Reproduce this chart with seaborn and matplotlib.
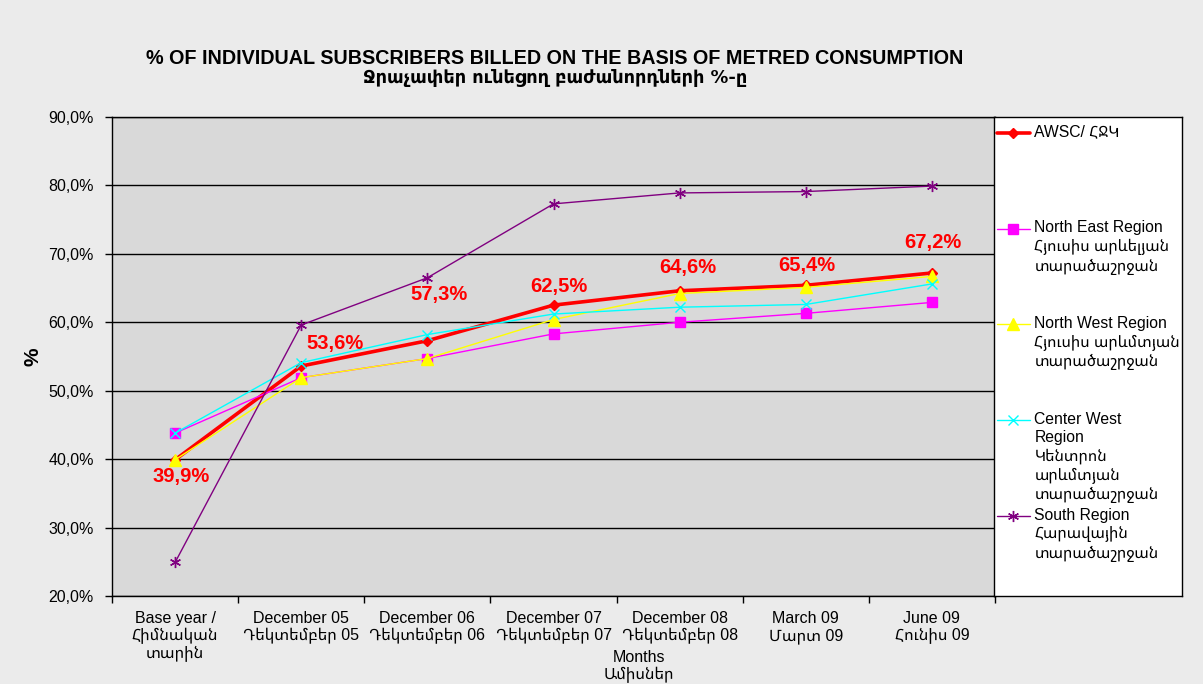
import seaborn as sns
import matplotlib.pyplot as plt
import pandas as pd
import numpy as np
from matplotlib.ticker import FuncFormatter

# data
periods = [
    "Base year /\nՀիմնական\nտարին",
    "December 05\nԴեկտեմբեր 05",
    "December 06\nԴեկտեմբեր 06",
    "December 07\nԴեկտեմբեր 07",
    "December 08\nԴեկտեմբեր 08",
    "March 09\nՄարտ 09",
    "June 09\nՀունիս 09",
]
awsc = [39.9, 53.6, 57.3, 62.5, 64.6, 65.4, 67.2]
north_east = [43.8, 51.9, 54.7, 58.3, 60.0, 61.3, 62.9]
north_west = [39.9, 51.9, 54.7, 60.4, 64.2, 65.1, 66.7]
center_west = [43.8, 54.1, 58.2, 61.2, 62.2, 62.6, 65.6]
south = [24.9, 59.6, 66.5, 77.3, 78.9, 79.1, 79.9]

series_labels = [
    "AWSC/ ՀՋԿ",
    "North East Region\nՀյուսիս արևելյան\nտարածաշրջան",
    "North West Region\nՀյուսիս արևմտյան\nտարածաշրջան",
    "Center West\nRegion\nԿենտրոն\nարևմտյան\nտարածաշրջան",
    "South Region\nՀարավային\nտարածաշրջան",
]
series_values = [awsc, north_east, north_west, center_west, south]

# styles per series: colour, marker, marker size, line width
styles = [
    ("#ff0000", "D", 5, 2.6),
    ("#ff00ff", "s", 7, 1.0),
    ("#ffff00", "^", 8, 1.0),
    ("#00ffff", "x", 7, 1.0),
    ("#800080", (6, 2, 0), 8, 1.0),
]
# pixel offsets of the AWSC value labels
label_offsets = [(6, -17), (34, 23), (12, 46), (5, 19), (8, 23), (1, 20), (1, 30)]

rows = []
for name, vals in zip(series_labels, series_values):
    for i, v in enumerate(vals):
        rows.append({"series": name, "pos": i, "value": v})
df = pd.DataFrame(rows)

sns.set_style("ticks")
plt.rcParams['font.family'] = ['Liberation Sans', 'Noto Sans Armenian', 'DejaVu Sans']
plt.rcParams['text.color'] = 'black'
plt.rcParams['axes.labelcolor'] = 'black'
plt.rcParams['xtick.color'] = 'black'
plt.rcParams['ytick.color'] = 'black'

fig = plt.figure(figsize=(12.03, 6.84), dpi=100, facecolor='#ebebeb')
ax = fig.add_axes([0.0931, 0.1287, 0.734, 0.7003])
ax.set_facecolor('#d9d9d9')

for name, (color, marker, ms, lw) in zip(series_labels, styles):
    sns.lineplot(data=df[df.series == name], x="pos", y="value", ax=ax,
                 color=color, marker=marker, markersize=ms, lw=lw,
                 markeredgecolor=color, markeredgewidth=1, legend=False)

for i, v in enumerate(awsc):
    dx, dy = label_offsets[i]
    ax.annotate(f"{v:.1f}%".replace('.', ','), (i, v), xytext=(dx, dy),
                textcoords='offset pixels', ha='center', va='center',
                color='#ff0000', fontweight='bold', fontsize=14.5)

# axes
ax.set_ylim(20, 90)
ax.set_yticks(np.arange(20, 91, 10))
ax.yaxis.set_major_formatter(FuncFormatter(lambda v, p: f"{v:.1f}%".replace('.', ',')))
ax.yaxis.grid(True, color='black', lw=1)
ax.set_axisbelow(True)
ax.tick_params(axis='y', length=5, width=1, pad=8, labelsize=11.5, color='black')

ax.set_xlim(-0.5, 6.5)
ax.set_xticks(np.arange(-0.5, 7, 1))
ax.set_xticks(np.arange(7), minor=True)
ax.set_xticklabels(periods, minor=True)
ax.tick_params(axis='x', which='major', length=5, width=1, labelbottom=False, color='black')
ax.tick_params(axis='x', which='minor', length=0, pad=11, labelsize=11.5)
for lab in ax.get_xticklabels(minor=True):
    lab.set_linespacing(1.15)
ax.set_xlabel("")
ax.set_ylabel("%", fontsize=15, fontweight='bold', labelpad=4)
for s in ax.spines.values():
    s.set_color('black')
    s.set_linewidth(1)

fig.text(0.531, 0.05, "Months\nԱմիսներ", ha='center', va='top', fontsize=11.5, linespacing=1.15)

# titles
fig.text(0.4613, 0.915, "% OF INDIVIDUAL SUBSCRIBERS BILLED ON THE BASIS OF METRED CONSUMPTION",
         ha='center', va='center', fontsize=14.2, fontweight='bold')
fig.text(0.4613, 0.886, "Ջրաչափեր ունեցող բաժանորդների %-ը",
         ha='center', va='center', fontsize=12.8, fontweight='bold', family=['DejaVu Sans'])

# legend box
lax = fig.add_axes([0.8263, 0.1287, 0.1563, 0.7003])
lax.set_facecolor('white')
lax.set_xlim(0, 1)
lax.set_ylim(0, 1)
lax.set_xticks([])
lax.set_yticks([])
for s in lax.spines.values():
    s.set_color('black')
    s.set_linewidth(1)
for k, (name, (color, marker, ms, lw)) in enumerate(zip(series_labels, styles)):
    y = 0.967 - 0.2 * k
    lax.plot([0.016, 0.19], [y, y], color=color, lw=lw)
    lax.plot([0.10], [y], color=color, marker=marker, markersize=ms,
             markeredgecolor=color, markeredgewidth=1)
    lax.text(0.214, y + 0.017, name, ha='left', va='top', fontsize=11.3, linespacing=1.27)

fig.savefig("out.png", dpi=100, facecolor=fig.get_facecolor())
